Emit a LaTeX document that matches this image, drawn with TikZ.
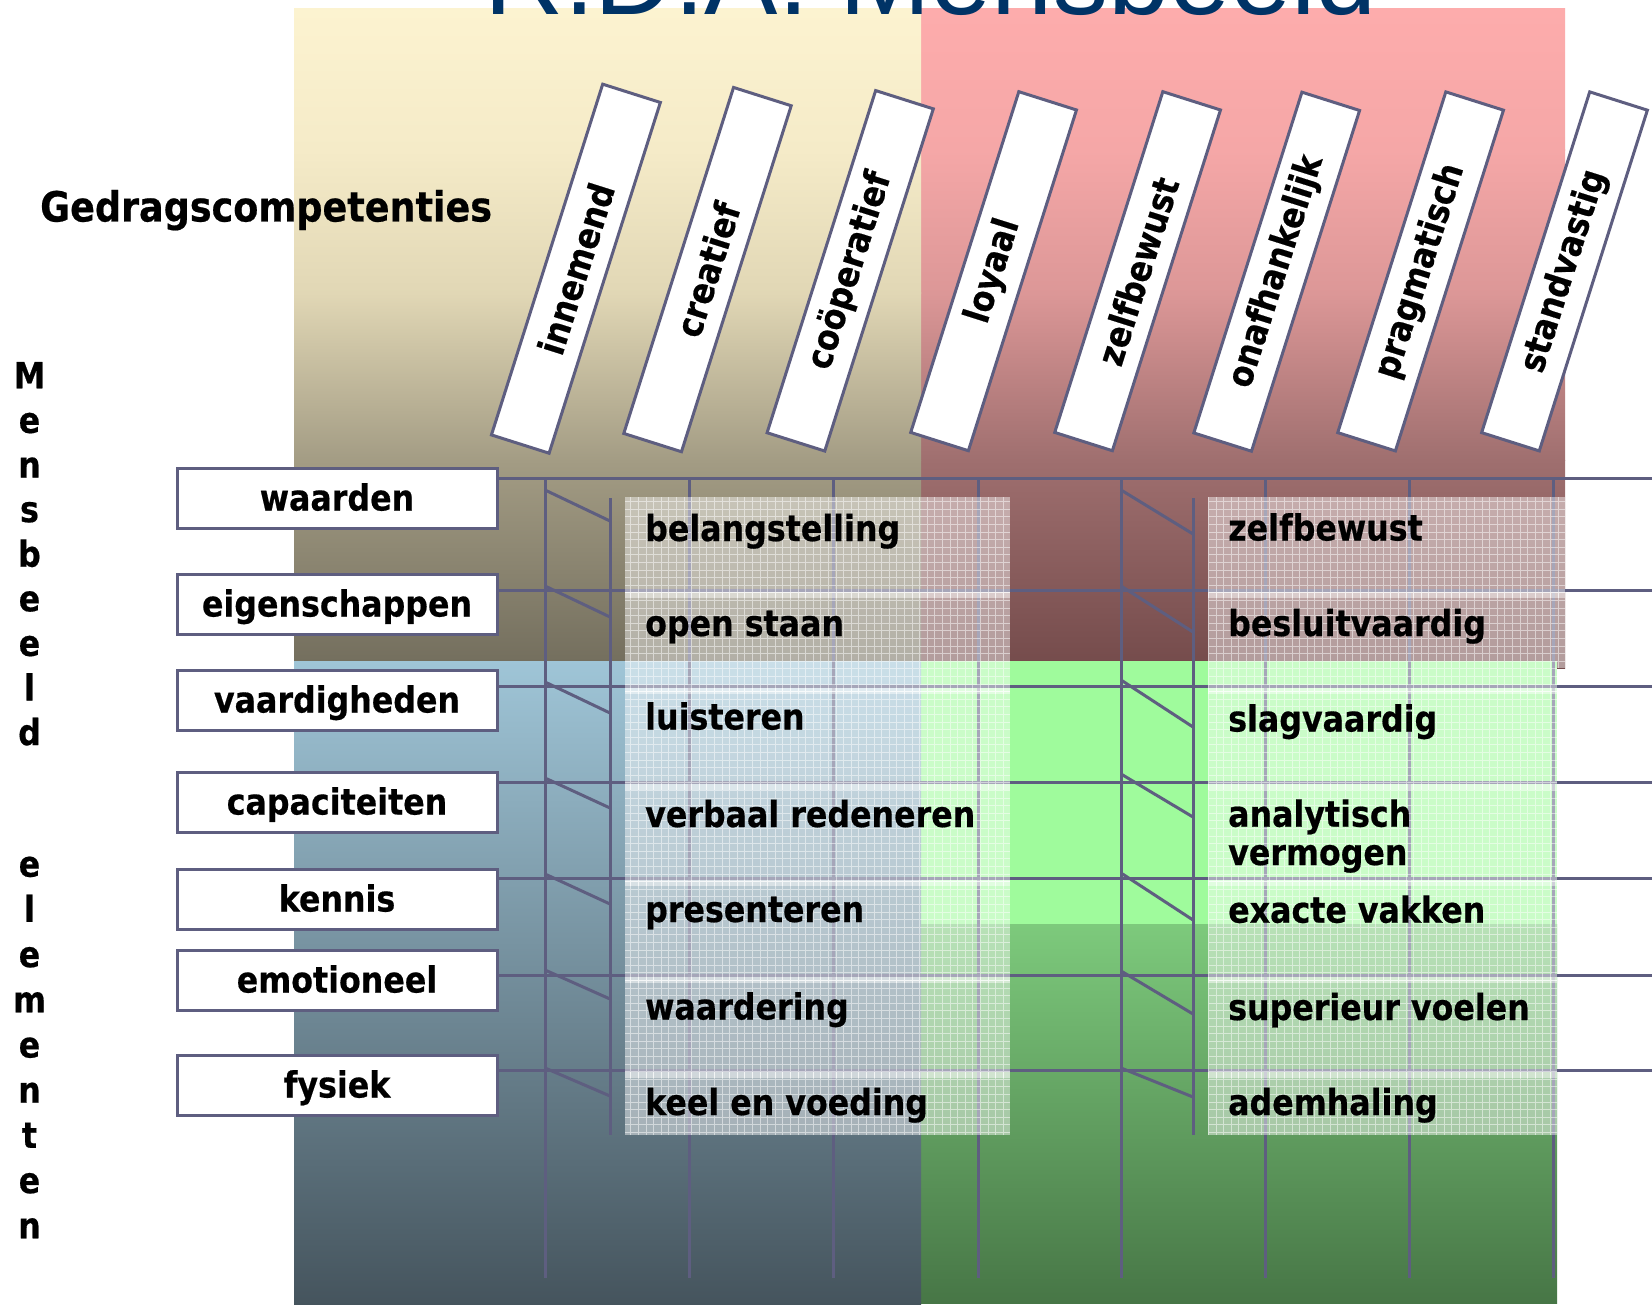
\documentclass[tikz,border=0pt]{standalone}
\usepackage{fontspec}
\setmainfont{DejaVu Sans}
\newfontfamily\lblfont{DejaVu Sans}[FakeStretch=0.88, BoldFeatures={FakeBold=0.5}]
\newfontfamily\ttlfont{Liberation Sans}

\definecolor{gline}{RGB}{94,94,128}
\definecolor{navy}{RGB}{0,51,102}
% quadrant gradients
\definecolor{ya}{HTML}{FCF3D0}\definecolor{yb}{HTML}{F5EBC8}\definecolor{yc}{HTML}{E1D7B5}
\definecolor{yd}{HTML}{A39C84}\definecolor{ye}{HTML}{746F5E}
\definecolor{ra}{HTML}{FDACAC}\definecolor{rb}{HTML}{F5A7A7}\definecolor{rc}{HTML}{DC9797}
\definecolor{rd}{HTML}{9F6F6F}\definecolor{re}{HTML}{744B4B}
\definecolor{ba}{HTML}{9FC5D7}\definecolor{bb}{HTML}{45545D}
\definecolor{ga}{HTML}{9FFB9C}\definecolor{gb}{HTML}{7DCA7C}\definecolor{gc}{HTML}{477646}

% translucent gridded panel row: x1, y1, x2, y2
\newcommand\patrow[4]{%
  \fill[white, fill opacity=0.45] (#1,#2) rectangle (#3,#4);
  \begin{scope}
    \clip (#1,#2) rectangle (#3,#4);
    \draw[white, draw opacity=0.5, line width=0.9pt] (#1,#2) grid[step=7.6pt] (#3,#4);
  \end{scope}}

\tikzset{
  bold/.style={font=\lblfont\bfseries\fontsize{36}{38}\selectfont},
  gridline/.style={draw=gline, line width=3pt},
  lblbox/.style={bold, draw=gline, fill=white, line width=3pt, minimum width=320pt,
    minimum height=60pt, inner sep=0pt, text height=30pt, text depth=5pt},
  colbox/.style={bold, draw=gline, fill=white, line width=3pt, minimum height=60.5pt,
    inner sep=0pt, rotate=72.4},
  ctext/.style={bold, anchor=base west, inner sep=0pt},
  vletter/.style={bold, anchor=base, inner sep=0pt},
}

\begin{document}
\begin{tikzpicture}[x=1pt, y=-1pt]
\useasboundingbox (0,0) rectangle (1652,1305);
\clip (0,0) rectangle (1652,1305);
\fill[white] (0,0) rectangle (1652,1305);

% --- quadrant backgrounds ---
\shade[top color=ra, bottom color=rb] (921,9) rectangle (1565,150.6);
\shade[top color=rb, bottom color=rc] (921,150) rectangle (1565,293.6);
\shade[top color=rc, bottom color=rd] (921,293) rectangle (1565,460.6);
\shade[top color=rd, bottom color=re] (921,460) rectangle (1565,668);

\shade[top color=ya, bottom color=yb] (294,9) rectangle (921,150.6);
\shade[top color=yb, bottom color=yc] (294,150) rectangle (921,293.6);
\shade[top color=yc, bottom color=yd] (294,293) rectangle (921,460.6);
\shade[top color=yd, bottom color=ye] (294,460) rectangle (921,661);

\fill[ga] (921,661) rectangle (1557,924.5);
\shade[top color=gb, bottom color=gc] (921,924) rectangle (1557,1303);

\shade[top color=ba, bottom color=bb] (294,661) rectangle (921,1305);

% --- headings ---
\node[font=\ttlfont\fontsize{110}{110}\selectfont, text=navy, anchor=base, inner sep=0pt]
  (title) at (931,15) {R.D.A. Mensbeeld};
\node[font=\lblfont\bfseries\fontsize{41.5}{44}\selectfont, anchor=base west, inner sep=0pt]
  (gedrag) at (40,221.5) {Gedragscompetenties};

\foreach \ch [count=\k from 0] in {M,e,n,s,b,e,e,l,d}
  \node[vletter] (mb\k) at (29.5,388.3+44.6*\k) {\ch};
\foreach \ch [count=\k from 0] in {e,l,e,m,e,n,t,e,n}
  \node[vletter] (el\k) at (29.5,876.7+45.2*\k) {\ch};

% --- tilted competence headers ---
\foreach \t/\x/\y/\len [count=\i] in {innemend/575.9/268.7/368, creatief/707.5/269.6/363,
    coöperatief/850.2/270.8/359, loyaal/993.6/271.2/357.5, zelfbewust/1137.6/271.2/357.5,
    onafhankelijk/1276.7/271.7/357.5, pragmatisch/1420.6/271.4/357.5,
    standvastig/1564.5/271.4/357.5}
  \node[colbox, minimum width=\len pt] (col\i) at (\x,\y) {\t};

% --- element labels ---
\foreach \t/\yt [count=\i] in {waarden/468, eigenschappen/574, vaardigheden/670,
    capaciteiten/772, kennis/869, emotioneel/950, fysiek/1055}
  \node[lblbox] (lab\i) at (337,\yt+30) {\t};

% --- scaffold: long verticals ---
\foreach \x [count=\i] in {545,689,833,978,1121,1265,1409,1553} {
  \coordinate (vt\i) at (\x,478);
  \coordinate (vb\i) at (\x,1278);
  \draw[gridline] (vt\i) -- (vb\i);
}
% short verticals
\coordinate (sla) at (610,498); \coordinate (slb) at (610,1135);
\coordinate (sra) at (1193,498); \coordinate (srb) at (1193,1135);
\draw[gridline] (sla) -- (slb);
\draw[gridline] (sra) -- (srb);

% horizontals from each label to the right edge
\foreach \y [count=\i] in {478,590,686,782,878,975,1070} {
  \coordinate (hr\i) at (1652,\y);
  \draw[gridline] (lab\i.east |- hr\i) -- (hr\i);
}

% braces between long and short verticals
\foreach \y/\a/\b [count=\i] in {478/12/43, 590/-4/27, 686/-4/27, 782/-4/26,
    878/-4/26, 975/-5/24, 1070/-2/26} {
  \coordinate (dla\i) at (545,\y+\a); \coordinate (dlb\i) at (610,\y+\b);
  \draw[gridline] (dla\i) -- (dlb\i);
}
\foreach \y/\a/\b [count=\i] in {478/12/56, 590/-4/42, 686/-6/41, 782/-8/35,
    878/-5/42, 975/-4/39, 1070/-2/27} {
  \coordinate (dra\i) at (1121,\y+\a); \coordinate (drb\i) at (1193,\y+\b);
  \draw[gridline] (dra\i) -- (drb\i);
}

% --- translucent panels ---
\patrow{625}{497}{1010}{598}
\patrow{625}{592}{1010}{694}
\patrow{625}{688}{1010}{790}
\patrow{625}{784}{1010}{886}
\patrow{625}{880}{1010}{983}
\patrow{625}{977}{1010}{1078}
\patrow{625}{1072}{1010}{1135}

\patrow{1208}{497}{1565}{598}
\patrow{1208}{592}{1565}{668}
\patrow{1208}{668}{1557}{694}
\patrow{1208}{688}{1557}{790}
\patrow{1208}{784}{1557}{886}
\patrow{1208}{880}{1557}{983}
\patrow{1208}{977}{1557}{1078}
\patrow{1208}{1072}{1557}{1135}

% --- panel texts ---
\foreach \t/\y [count=\i] in {belangstelling/541, open staan/636, luisteren/729.5,
    verbaal redeneren/827, presenteren/922, waardering/1019.5, keel en voeding/1115}
  \node[ctext] (lt\i) at (645,\y) {\t};

\node[ctext] (rt1) at (1228,540.5) {zelfbewust};
\node[ctext] (rt2) at (1228,636) {besluitvaardig};
\node[ctext] (rt3) at (1228,731.5) {slagvaardig};
\node[ctext] (rt4) at (1228,826.7) {analytisch};
\node[ctext] (rt4b) at (1228,865) {vermogen};
\node[ctext] (rt5) at (1228,922.7) {exacte vakken};
\node[ctext] (rt6) at (1228,1020) {superieur voelen};
\node[ctext] (rt7) at (1228,1115) {ademhaling};
\end{tikzpicture}
\end{document}
